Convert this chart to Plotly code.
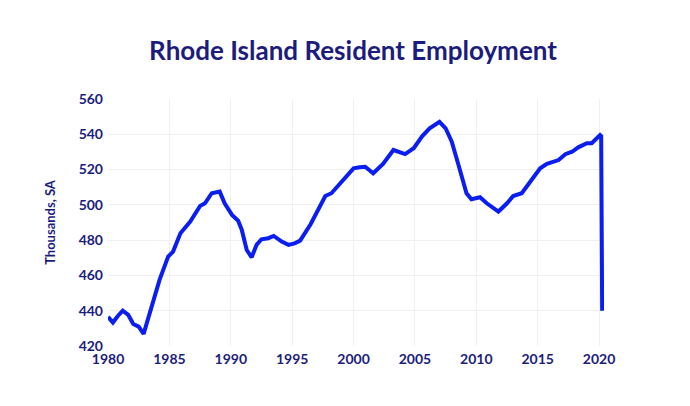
import plotly.graph_objects as go

years = [1980.0, 1980.4, 1980.8, 1981.2, 1981.65, 1982.06, 1982.5, 1982.9, 1983.4, 1984.2,
         1984.9, 1985.3, 1985.9, 1986.7, 1987.5, 1987.9, 1988.45, 1989.1, 1989.5, 1990.1,
         1990.6, 1990.9, 1991.3, 1991.7, 1992.1, 1992.5, 1993.05, 1993.5, 1994.15, 1994.7,
         1995.2, 1995.65, 1996.5, 1997.1, 1997.7, 1998.2, 1999.05, 2000.0, 2000.5, 2000.95,
         2001.6, 2002.4, 2003.25, 2003.8, 2004.2, 2004.9, 2005.6, 2006.2, 2007.0, 2007.5,
         2008.0, 2008.55, 2009.2, 2009.6, 2010.3, 2010.85, 2011.8, 2012.5, 2013.0, 2013.7,
         2014.4, 2015.2, 2015.75, 2016.3, 2016.7, 2017.25, 2017.8, 2018.3, 2019.0, 2019.4,
         2019.8, 2020.08, 2020.17, 2020.25]
employment = [436.5, 433.3, 437.0, 440.0, 437.6, 432.5, 431.0, 426.9, 438.6, 457.5,
              470.7, 473.5, 483.9, 490.5, 499.4, 500.9, 506.6, 507.5, 500.9, 494.3,
              491.0, 485.8, 474.4, 470.3, 477.3, 480.5, 481.1, 482.4, 479.2, 477.3,
              478.2, 479.7, 489.0, 497.1, 505.0, 506.6, 513.1, 520.7, 521.3, 521.6,
              517.9, 523.2, 531.1, 529.5, 528.8, 532.1, 539.0, 543.4, 547.1, 543.4,
              535.8, 522.6, 506.6, 503.2, 504.3, 500.9, 496.2, 500.9, 505.0, 506.6,
              513.1, 520.7, 523.2, 524.5, 525.4, 528.7, 530.1, 532.6, 534.9, 534.9,
              537.7, 539.6, 539.0, 440.0]

x_ticks = [1980, 1985, 1990, 1995, 2000, 2005, 2010, 2015, 2020]
y_ticks = [420, 440, 460, 480, 500, 520, 540, 560]

navy = "#1c1c7e"
fig = go.Figure()
fig.add_trace(go.Scatter(x=years, y=employment, mode="lines",
                         line=dict(color="#0a1ef2", width=4), showlegend=False))
fig.update_layout(
    width=690, height=406,
    paper_bgcolor="white", plot_bgcolor="white",
    margin=dict(l=100, r=94, t=91, b=68),
    title=dict(text="<b>Rhode Island Resident Employment</b>", x=0.5, xanchor="center",
               y=0.895, yanchor="middle",
               font=dict(family="Lato", size=26, color=navy)),
    font=dict(family="Lato", color=navy),
)
fig.update_xaxes(range=[1980, 2020.4], tickvals=x_ticks, ticktext=[f"<b>{t}</b>" for t in x_ticks],
                 showgrid=True, gridcolor="#f0f0f0", zeroline=False, showline=False,
                 tickfont=dict(size=14, color=navy), ticklabelstandoff=3)
fig.update_yaxes(range=[420, 560], tickvals=y_ticks, ticktext=[f"<b>{t}</b>" for t in y_ticks],
                 showgrid=True, gridcolor="#f0f0f0", zeroline=False, showline=False,
                 tickfont=dict(size=14, color=navy), ticklabelstandoff=4,
                 title=dict(text="<b>Thousands, SA</b>", font=dict(size=13, color=navy), standoff=20))
fig.write_html("out.html")
